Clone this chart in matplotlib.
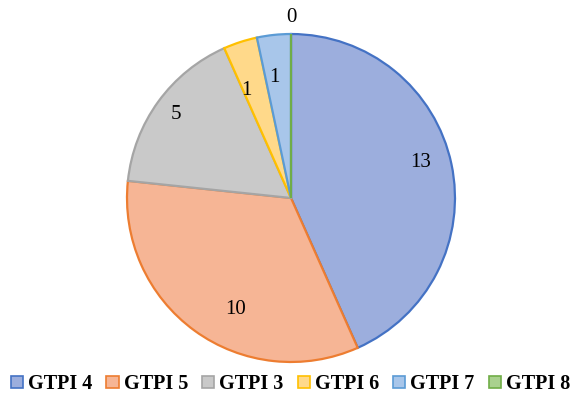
import matplotlib.pyplot as plt
import numpy as np
from matplotlib.patches import Patch

labels = ['GTPI 4', 'GTPI 5', 'GTPI 3', 'GTPI 6', 'GTPI 7', 'GTPI 8']
values = [13, 10, 5, 1, 1, 0]
fills = ['#9CAEDD', '#F6B595', '#C9C9C9', '#FFD98A', '#A8C6EA', '#A9D18E']
edges = ['#4472C4', '#ED7D31', '#A5A5A5', '#FFC000', '#5B9BD5', '#70AD47']
label_r = [0.82, 0.76, 0.87, 0.71, 0.74, 1.1]
label_shift = [3.5, 9.5, 0, 4.5, 2, 0]  # degrees

plt.rcParams['font.family'] = ['Liberation Serif']

fig = plt.figure(figsize=(5.81, 4.0), dpi=100)
ax = fig.add_axes([0.2186, 0.095, 0.5645, 0.82])

wedges, _ = ax.pie(values, colors=fills, startangle=90, counterclock=False,
                   radius=1, wedgeprops=dict(linewidth=1.6))
for w, ec in zip(wedges, edges):
    w.set_edgecolor(ec)

for w, v, r, s in zip(wedges, values, label_r, label_shift):
    mid = np.deg2rad((w.theta1 + w.theta2) / 2 + s)
    ax.text(r * np.cos(mid), r * np.sin(mid), str(v), ha='center', va='center',
            fontsize=15, color='black', clip_on=False)

ax.set_xlim(-1, 1)
ax.set_ylim(-1, 1)
ax.set_aspect('equal')
ax.axis('off')

handles = [Patch(facecolor=f, edgecolor=e, linewidth=1.2) for f, e in zip(fills, edges)]
fig.legend(handles, labels, loc='center', bbox_to_anchor=(0.5, 0.04), ncol=6,
           frameon=False, prop={'weight': 'bold', 'size': 14.5},
           handlelength=0.6, handleheight=0.6, handletextpad=0.25, columnspacing=0.7)

fig.savefig('out.png', dpi=100)
